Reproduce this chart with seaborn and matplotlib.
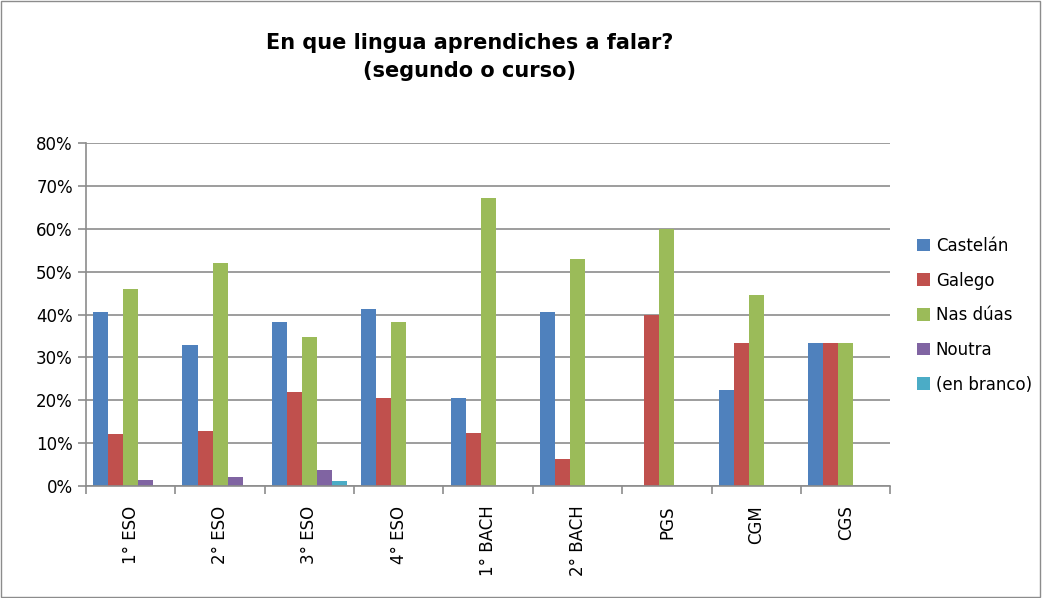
import matplotlib
matplotlib.use('Agg')
import matplotlib.pyplot as plt
import matplotlib.ticker as mticker
import pandas as pd
import seaborn as sns

# data (share of students)
cursos = ['1° ESO', '2° ESO', '3° ESO', '4° ESO', '1° BACH', '2° BACH', 'PGS', 'CGM', 'CGS']
series = ['Castelán', 'Galego', 'Nas dúas', 'Noutra', '(en branco)']
castelan = [0.406, 0.329, 0.383, 0.413, 0.205, 0.406, 0.0, 0.224, 0.334]
galego = [0.121, 0.128, 0.219, 0.205, 0.124, 0.063, 0.400, 0.334, 0.334]
nas_duas = [0.460, 0.521, 0.348, 0.383, 0.672, 0.530, 0.600, 0.446, 0.334]
noutra = [0.014, 0.021, 0.037, 0.0, 0.0, 0.0, 0.0, 0.0, 0.0]
en_branco = [0.0, 0.0, 0.012, 0.0, 0.0, 0.0, 0.0, 0.0, 0.0]
colors = ['#4F81BD', '#C0504D', '#9BBB59', '#8064A2', '#4BACC6']

rows = []
for name, vals in zip(series, [castelan, galego, nas_duas, noutra, en_branco]):
    for c, v in zip(cursos, vals):
        rows.append({'curso': c, 'serie': name, 'valor': v})
df = pd.DataFrame(rows)

sns.set_style('white')
plt.rcParams['font.family'] = ['DejaVu Sans']
plt.rcParams['text.color'] = 'black'
plt.rcParams['xtick.color'] = 'black'
plt.rcParams['ytick.color'] = 'black'

fig = plt.figure(figsize=(10.42, 5.98), dpi=100)
ax = fig.add_axes([0.0825, 0.187, 0.772, 0.574])

sns.barplot(data=df, x='curso', y='valor', hue='serie', order=cursos,
            hue_order=series, palette=colors, width=0.84, errorbar=None,
            saturation=1, linewidth=0, ax=ax)

ax.set_ylim(0, 0.8)
ax.set_xlim(-0.5, len(cursos) - 0.5)
ax.yaxis.set_major_locator(mticker.MultipleLocator(0.1))
ax.yaxis.set_major_formatter(mticker.PercentFormatter(1.0, decimals=0))
ax.grid(axis='y', color='#8c8c8c', linewidth=1.2)
ax.set_axisbelow(True)
ax.set_xlabel('')
ax.set_ylabel('')

for side in ['top', 'right']:
    ax.spines[side].set_visible(False)
for side in ['left', 'bottom']:
    ax.spines[side].set_color('#8c8c8c')
    ax.spines[side].set_linewidth(1.2)

# ticks between categories on x, outward ticks on y
ax.set_xticks(range(len(cursos)))
ax.set_xticklabels(cursos, rotation=90, fontsize=12)
ax.set_xticks([i - 0.5 for i in range(len(cursos) + 1)], minor=True)
ax.tick_params(axis='x', which='major', length=0, pad=14, bottom=True)
ax.tick_params(axis='x', which='minor', length=6, color='#8c8c8c', width=1.2,
               bottom=True, direction='out')
ax.tick_params(axis='y', length=6, color='#8c8c8c', width=1.2, labelsize=12,
               left=True, direction='out', labelcolor='black')

leg = ax.legend(loc='upper left', bbox_to_anchor=(1.014, 0.77), frameon=False,
                fontsize=12, handlelength=0.8, handleheight=0.8,
                handletextpad=0.35, labelspacing=1.0)

fig.text(0.451, 0.905, 'En que lingua aprendiches a falar?\n(segundo o curso)',
         ha='center', va='center', fontsize=15, fontweight='bold', linespacing=1.5,
         color='black')

# thin grey border round the whole chart
fig.patches.append(plt.Rectangle((0.001, 0.002), 0.997, 0.996, transform=fig.transFigure,
                                 fill=False, edgecolor='#8c8c8c', linewidth=1))

fig.savefig('out.png', dpi=100)
